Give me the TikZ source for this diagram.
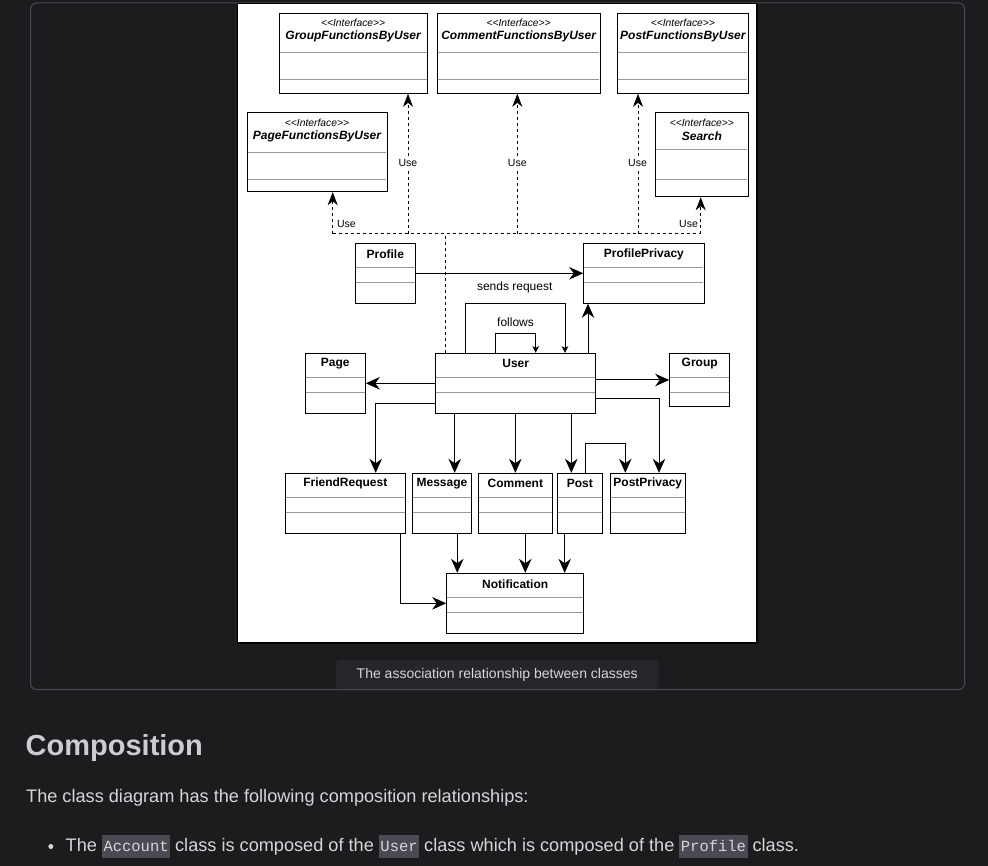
\documentclass[tikz,border=0pt]{standalone}
\usepackage{fontspec}
\setmainfont{Liberation Sans}
\setmonofont{Liberation Mono}
\usetikzlibrary{arrows.meta,fit,calc}
\definecolor{pagebg}{HTML}{1C1C1E}
\definecolor{framecol}{HTML}{4A4A52}
\definecolor{capbg}{HTML}{26262A}
\definecolor{headcol}{HTML}{CDCDD1}
\definecolor{bodycol}{HTML}{D6D6DA}
\definecolor{codebg}{HTML}{4A4A55}
\definecolor{sepgray}{HTML}{9A9A9A}
\newcommand\codespan[1]{{\setlength\fboxsep{0pt}\colorbox{codebg}{\rule[-6.2pt]{0pt}{22.7pt}\hspace{1.5pt}{\fontsize{15.5}{18}\selectfont\ttfamily\color{bodycol}#1}\hspace{1.5pt}}}}
% regular class box: name, x1, y1, x2, y2, l1, l2, title, title y
\newcommand\umlcls[9]{%
  \node[umlbox, fit={(#2,#3)(#4,#5)}] (#1) {};
  \draw[sepline] (#2+0.6,#6) -- (#4-0.6,#6);
  \draw[sepline] (#2+0.6,#7) -- (#4-0.6,#7);
  \node[cname] (#1-t) at ({(#2+#4)/2},#9) {#8};
}
% interface box: name, x1, y1, x2, y2, l1, l2, title
\newcommand\umlifc[8]{%
  \node[umlbox, fit={(#2,#3)(#4,#5)}] (#1) {};
  \draw[sepline] (#2+0.6,#6) -- (#4-0.6,#6);
  \draw[sepline] (#2+0.6,#7) -- (#4-0.6,#7);
  \node[stereo] (#1-s) at ({(#2+#4)/2},#3+9.8) {<\kern0pt<Interface>\kern0pt>};
  \node[iname] (#1-t) at ({(#2+#4)/2},#3+23.5) {#8};
}
\begin{document}
\begin{tikzpicture}[x=1pt,y=-1pt,
  umlbox/.style={draw=black, line width=1pt, fill=white, inner sep=0pt},
  sepline/.style={draw=sepgray, line width=1pt},
  cname/.style={font=\fontsize{12}{14}\selectfont\bfseries, inner sep=0pt},
  iname/.style={font=\fontsize{12}{14}\selectfont\bfseries\itshape, inner sep=0pt},
  stereo/.style={font=\fontsize{10.3}{12}\selectfont\itshape, inner sep=0pt},
  link/.style={draw=black, line width=1pt, -{Stealth[length=14pt,width=12.5pt,inset=4.5pt]}},
  smalllink/.style={draw=black, line width=1pt, -{Stealth[length=6.5pt,width=6.5pt,inset=1.5pt]}},
  uselink/.style={draw=black, line width=1pt, dash pattern=on 3pt off 3pt, -{Stealth[length=13pt,width=10pt,inset=4pt]}},
  dline/.style={draw=black, line width=1pt, dash pattern=on 3pt off 3pt},
  lbl/.style={font=\fontsize{12}{14}\selectfont, inner sep=1pt},
  uselbl/.style={font=\fontsize{10.5}{12}\selectfont, fill=white, inner sep=1pt},
]
\fill[pagebg] (0,0) rectangle (988,866);
\useasboundingbox (0,0) rectangle (988,866);
% caption tab and frame
\fill[capbg, rounded corners=4pt] (336,660) rectangle (658.5,689.5);
\draw[framecol, line width=1pt, rounded corners=6pt] (30.5,3) rectangle (964.5,689.5);
\node[font=\fontsize{14}{16}\selectfont, text=bodycol, inner sep=0pt] (caption) at (497.2,674.5) {The association relationship between classes};
% white image
\draw[black, line width=1.5pt, fill=white] (237.5,3.6) rectangle (757,643);

% interfaces
\umlifc{GroupF}{279}{13.3}{427.3}{93.3}{52.3}{79.7}{GroupFunctionsByUser}
\umlifc{CommentF}{437.3}{13.3}{600}{93.3}{52.3}{79.7}{CommentFunctionsByUser}
\umlifc{PostF}{617.7}{13.3}{748}{93.3}{52.3}{79.7}{PostFunctionsByUser}
\umlifc{PageF}{247}{112.7}{387}{191.7}{152.7}{179.3}{PageFunctionsByUser}
\umlifc{SearchF}{655.7}{112.7}{748}{196.7}{149.3}{179.3}{Search}

% classes
\umlcls{Profile}{355.3}{243.3}{415.3}{303.3}{267.3}{282.3}{Profile}{254}
\umlcls{ProfilePrivacy}{583.7}{243.3}{704}{303.3}{267.3}{282.3}{ProfilePrivacy}{254}
\umlcls{Page}{305.3}{353.3}{365.3}{413.3}{377.3}{392.7}{Page}{363.6}
\umlcls{User}{435.7}{353.3}{595.7}{413.3}{377.3}{392.7}{User}{363.6}
\umlcls{Group}{669.7}{353.3}{729.7}{406.7}{377.3}{392.7}{Group}{363.6}
\umlcls{FriendRequest}{285.3}{473.3}{405.3}{533.3}{497.3}{512.3}{FriendRequest}{483.6}
\umlcls{Message}{412.3}{473.3}{471.7}{533.3}{497.3}{512.3}{Message}{483.6}
\umlcls{Comment}{478}{473.3}{552.7}{533.3}{497.3}{512.3}{Comment}{483.6}
\umlcls{Post}{557.3}{473.3}{602.3}{533.3}{497.3}{512.3}{Post}{483.6}
\umlcls{PostPrivacy}{610.3}{473.3}{685.3}{533.3}{497.3}{512.3}{PostPrivacy}{483.6}
\umlcls{Notification}{446.7}{573.3}{583.7}{633.3}{597.3}{612.3}{Notification}{584}

% dashed "Use" dependencies
\coordinate (hub) at (445.3,233.7);
\coordinate (uPage) at (332.7,233.7);
\coordinate (uGroup) at (408,233.7);
\coordinate (uComment) at (517.3,233.7);
\coordinate (uPost) at (638,233.7);
\coordinate (uSearch) at (700.7,233.7);
\draw[dline] (hub |- User.north) -- (hub);
\draw[dline] (uPage) -- (uSearch);
\draw[uselink] (uPage) -- (uPage |- PageF.south);
\draw[uselink] (uGroup) -- (uGroup |- GroupF.south);
\draw[uselink] (uComment) -- (uComment |- CommentF.south);
\draw[uselink] (uPost) -- (uPost |- PostF.south);
\draw[uselink] (uSearch) -- (uSearch |- SearchF.south);
\node[uselbl] (usePage) at (346.5,224) {Use};
\node[uselbl] (useGroup) at (408,163) {Use};
\node[uselbl] (useComment) at (517.3,163) {Use};
\node[uselbl] (usePost) at (637.5,163) {Use};
\node[uselbl] (useSearch) at (688.5,224) {Use};

% associations
\draw[link] (Profile.east) -- (ProfilePrivacy.west);
\coordinate (sA) at (465.7,303.3);
\coordinate (sB) at (565,303.3);
\draw[smalllink] (sA |- User.north) -- (sA) -- (sB) -- (sB |- User.north);
\node[lbl] (lsend) at (514.7,287.7) {sends request};
\coordinate (fA) at (495.7,333.7);
\coordinate (fB) at (535.7,333.7);
\draw[smalllink] (fA |- User.north) -- (fA) -- (fB) -- (fB |- User.north);
\node[lbl] (lfollow) at (515.5,322.5) {follows};
\coordinate (xPP) at (588,300);
\draw[link] (User.north -| xPP) -- (ProfilePrivacy.south -| xPP);
\draw[link] (User.west) -- (Page.east);
\draw[link] (User.east |- Group.west) -- (Group.west);
\coordinate (cFR) at (375.7,403.3);
\draw[link] (User.west |- cFR) -- (cFR) -- (cFR |- FriendRequest.north);
\coordinate (xMsg) at (454.7,450);
\draw[link] (User.south -| xMsg) -- (Message.north -| xMsg);
\draw[link] (User.south -| Comment.north) -- (Comment.north);
\coordinate (xPost) at (571.3,450);
\draw[link] (User.south -| xPost) -- (Post.north -| xPost);
\coordinate (cPPv) at (659,398.3);
\draw[link] (User.east |- cPPv) -- (cPPv) -- (cPPv |- PostPrivacy.north);
\coordinate (pA) at (585.3,443.3);
\coordinate (pB) at (625.3,443.3);
\draw[link] (pA |- Post.north) -- (pA) -- (pB) -- (pB |- PostPrivacy.north);
\coordinate (nMsg) at (457.3,550);
\coordinate (nCom) at (525.3,550);
\coordinate (nPost) at (564.7,550);
\draw[link] (Message.south -| nMsg) -- (Notification.north -| nMsg);
\draw[link] (Comment.south -| nCom) -- (Notification.north -| nCom);
\draw[link] (Post.south -| nPost) -- (Notification.north -| nPost);
\coordinate (cFN) at (400,603.3);
\draw[link] (FriendRequest.south -| cFN) -- (cFN) -- (Notification.west);

% text below
\node[anchor=base west, inner sep=0pt, text=headcol, font=\fontsize{29}{34}\selectfont\bfseries] (heading) at (25.5,755) {Composition};
\node[anchor=base west, inner sep=0pt, text=bodycol, font=\fontsize{18.15}{22}\selectfont] (para) at (26,802) {The class diagram has the following composition relationships:};
\node[circle, fill=bodycol, inner sep=0pt, minimum size=5pt] (bullet) at (50.8,846.5) {};
\node[anchor=base west, inner sep=0pt, text=bodycol, font=\fontsize{18.15}{22}\selectfont] (item) at (65.5,851.5) {The \codespan{Account} class is composed of the \codespan{User} class which is composed of the \codespan{Profile} class.};
\end{tikzpicture}
\end{document}
